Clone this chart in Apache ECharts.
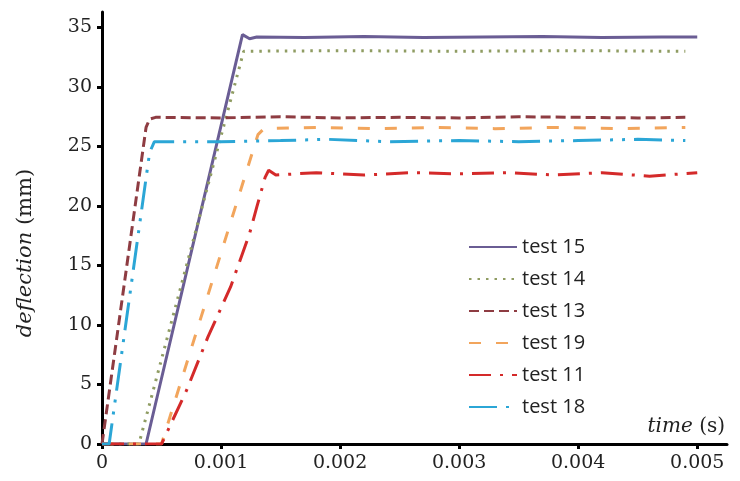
<!DOCTYPE html>
<html>
<head>
<meta charset="utf-8">
<script src="https://cdn.jsdelivr.net/npm/echarts@6/dist/echarts.min.js"></script>
<style>
  html, body { margin: 0; padding: 0; background: #fff; }
  #chart { width: 740px; height: 481px; }
</style>
</head>
<body>
<div id="chart"></div>
<script>
// time (s), deflection (mm)
const test15 = [[0,0],[0.00037,0],[0.00118,34.4],[0.00124,34.05],[0.0013,34.2],[0.0017,34.15],[0.0022,34.25],[0.0027,34.15],[0.0032,34.2],[0.0037,34.25],[0.0042,34.15],[0.0047,34.2],[0.005,34.2]];
const test14 = [[0,0],[0.00031,0],[0.00119,33.0],[0.002,33.05],[0.003,33.0],[0.004,33.05],[0.0049,33.0]];
const test13 = [[0,0],[0.00001,0],[0.00037,26.6],[0.0004,27.3],[0.00045,27.45],[0.001,27.4],[0.0015,27.5],[0.002,27.4],[0.0025,27.45],[0.003,27.4],[0.0035,27.5],[0.004,27.45],[0.0045,27.4],[0.0049,27.45]];
const test19 = [[0,0],[0.0005,0],[0.00131,26.0],[0.00136,26.5],[0.0018,26.6],[0.0023,26.5],[0.0028,26.6],[0.0033,26.5],[0.0038,26.6],[0.0043,26.5],[0.0049,26.6]];
const test11 = [[0,0],[0.0005,0],[0.00071,4.5],[0.00089,9.0],[0.00108,13.2],[0.00124,17.7],[0.0013,19.9],[0.00137,22.4],[0.0014,23.0],[0.00146,22.6],[0.0018,22.8],[0.0022,22.6],[0.0026,22.8],[0.003,22.7],[0.0034,22.8],[0.0038,22.6],[0.0042,22.8],[0.0046,22.5],[0.005,22.8]];
const test18 = [[0,0],[0.00006,0],[0.0004,24.5],[0.00044,25.4],[0.001,25.4],[0.0015,25.5],[0.0019,25.6],[0.0024,25.4],[0.003,25.5],[0.0035,25.4],[0.004,25.5],[0.0045,25.6],[0.0049,25.5]];

const xTicks = [0, 0.001, 0.002, 0.003, 0.004, 0.005];
const yTicks = [0, 5, 10, 15, 20, 25, 30, 35];

const serif = '"DejaVu Serif", serif';
const myChart = echarts.init(document.getElementById('chart'));

function line(name, data, color, type, width) {
  return {
    name: name,
    type: 'line',
    data: data,
    showSymbol: false,
    symbol: 'none',
    lineStyle: { color: color, width: width, type: type },
    itemStyle: { color: color }
  };
}

const option = {
  backgroundColor: '#fff',
  animation: false,
  grid: { left: 102, right: 13, top: 12, bottom: 37 },
  legend: {
    orient: 'vertical',
    left: 463,
    top: 232,
    itemWidth: 48,
    itemHeight: 14,
    itemGap: 12,
    itemStyle: { opacity: 0 },
    textStyle: { fontFamily: '"Open Sans", sans-serif', fontSize: 20, color: '#222' },
    data: ['test 15', 'test 14', 'test 13', 'test 19', 'test 11', 'test 18']
  },
  xAxis: {
    type: 'value',
    min: 0,
    max: 0.00525,
    splitLine: { show: false },
    axisLine: { lineStyle: { color: '#000', width: 3 } },
    axisTick: { customValues: xTicks, length: 5, lineStyle: { color: '#000', width: 3 } },
    axisLabel: { customValues: xTicks, color: '#222', fontFamily: serif, fontSize: 19, margin: 10 },
    name: '{i|time} (s)',
    nameLocation: 'end',
    nameGap: -2,
    nameTextStyle: {
      fontFamily: serif, fontSize: 20, color: '#222',
      align: 'right', verticalAlign: 'bottom', padding: [0, 0, 7, 0],
      rich: { i: { fontStyle: 'italic', fontFamily: serif, fontSize: 20, color: '#222' } }
    }
  },
  yAxis: {
    type: 'value',
    min: 0,
    max: 36.3,
    splitLine: { show: false },
    axisLine: { lineStyle: { color: '#000', width: 3 } },
    axisTick: { customValues: yTicks, length: 5, lineStyle: { color: '#000', width: 3 } },
    axisLabel: { customValues: yTicks, color: '#222', fontFamily: serif, fontSize: 19, margin: 10 },
    name: '{i|deflection} (mm)',
    nameLocation: 'middle',
    nameGap: 66,
    nameTextStyle: {
      fontFamily: serif, fontSize: 21, color: '#222',
      padding: [0, 50, 0, 0],
      rich: { i: { fontStyle: 'italic', fontFamily: serif, fontSize: 21, color: '#222' } }
    }
  },
  series: [
    line('test 15', test15, '#6a5d94', 'solid', 3),
    line('test 14', test14, '#8f9c62', [2.5, 6], 3),
    line('test 13', test13, '#8e3c42', [10, 5], 3),
    line('test 19', test19, '#f2a55c', [12, 15], 3),
    line('test 11', test11, '#d42a2a', [22, 9, 3, 9], 3),
    line('test 18', test18, '#2ba6d6', [28, 9, 3, 9, 3, 9], 3)
  ]
};

myChart.setOption(option);
</script>
</body>
</html>
